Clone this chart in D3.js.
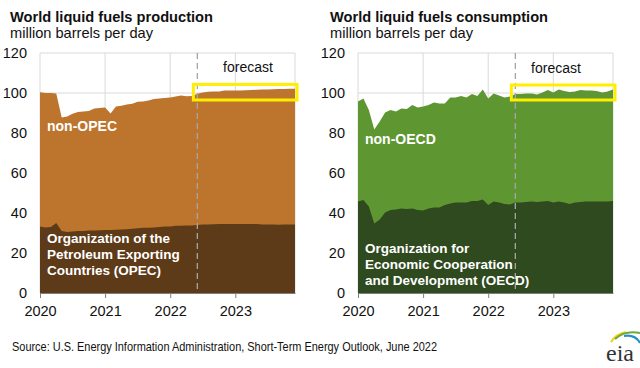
<!DOCTYPE html>
<html>
<head>
<meta charset="utf-8">
<script src="https://cdn.jsdelivr.net/npm/d3@7/dist/d3.min.js"></script>
<style>
  body { margin: 0; background: #fff; }
  svg { display: block; font-family: "Liberation Sans", Arial, sans-serif; }
</style>
</head>
<body>
<div id="chart"></div>
<script>
// Parameters
const svg_w = 640;
const svg_h = 368;

// Data: monthly values Jan 2020 - Dec 2023 (million barrels per day)
const years = ["2020", "2021", "2022", "2023"];
const yTicks = [0, 20, 40, 60, 80, 100, 120];
const forecastStart = 29; // June 2022

const productionTotal = [
  100.4, 100.0, 100.0, 99.7, 87.8, 88.2, 89.6, 90.5, 90.7, 91.0, 92.3, 92.5,
  92.8, 89.8, 93.3, 93.6, 94.3, 94.6, 95.6, 95.8, 96.3, 97.0, 97.2, 97.5,
  97.8, 98.2, 98.8, 98.4, 98.5, 99.6, 100.3, 100.6, 100.8, 100.8, 101.2, 101.3,
  101.2, 101.3, 101.4, 101.5, 101.6, 101.7, 101.8, 101.9, 102.0, 102.0, 102.1, 102.1
];
const productionOPEC = [
  33.2, 32.8, 33.0, 35.0, 31.0, 30.5, 30.8, 31.0, 31.0, 31.2, 31.3, 31.4,
  31.5, 31.5, 31.6, 31.7, 31.9, 32.1, 32.4, 32.6, 32.6, 32.8, 33.0, 33.2,
  33.3, 33.6, 33.6, 33.7, 33.8, 34.0, 34.2, 34.3, 34.4, 34.5, 34.5, 34.5,
  34.5, 34.5, 34.5, 34.5, 34.5, 34.3, 34.2, 34.2, 34.1, 34.2, 34.3, 34.3
];
const consumptionTotal = [
  95.7, 97.3, 91.5, 81.8, 85.7, 90.2, 91.5, 90.7, 92.3, 92.0, 94.0, 92.8,
  93.2, 94.0, 95.3, 94.8, 94.8, 97.8, 97.7, 98.5, 97.7, 99.5, 98.5, 101.8,
  97.3, 99.8, 98.7, 97.7, 98.2, 99.5, 99.5, 99.8, 99.8, 99.3, 100.3, 101.5,
  100.2, 101.8, 101.0, 100.5, 100.8, 101.5, 101.2, 101.2, 101.0, 100.2, 100.7, 101.8
];
const consumptionOECD = [
  45.7, 46.5, 43.2, 34.8, 36.8, 40.2, 41.5, 41.8, 42.2, 42.0, 42.3, 41.5,
  41.2, 42.3, 42.8, 42.7, 44.0, 44.8, 45.2, 45.2, 45.3, 46.0, 46.0, 46.8,
  44.0, 45.7, 45.3, 44.5, 44.3, 45.2, 45.3, 45.5, 45.7, 45.5, 45.8, 46.0,
  45.2, 45.7, 45.3, 44.5, 45.2, 45.5, 45.7, 45.7, 45.8, 45.7, 45.8, 46.0
];

const svg = d3.select("div#chart")
  .append("svg")
    .attr("width", svg_w)
    .attr("height", svg_h);

svg.append("rect")
    .attr("width", svg_w)
    .attr("height", svg_h)
    .attr("fill", "white");

function drawPanel(p) {
  const g = svg.append("g");
  const xScale = d3.scaleLinear().domain([0, p.total.length - 1]).range([p.left, p.right]);
  const yScale = d3.scaleLinear().domain([0, 120]).range([293, 53]);

  // titles
  g.append("text")
      .attr("x", p.titleX).attr("y", 22)
      .style("font-size", "15px").style("font-weight", "bold")
      .attr("textLength", p.titleW).attr("lengthAdjust", "spacingAndGlyphs")
      .attr("fill", "#111")
      .text(p.title);
  g.append("text")
      .attr("x", p.titleX).attr("y", 38)
      .style("font-size", "15px")
      .attr("textLength", 143).attr("lengthAdjust", "spacingAndGlyphs")
      .attr("fill", "#111")
      .text("million barrels per day");

  // gridlines
  g.append("g").selectAll("line")
    .data(yTicks.filter(d => d > 0))
    .join("line")
      .attr("x1", p.left).attr("x2", p.right)
      .attr("y1", d => yScale(d)).attr("y2", d => yScale(d))
      .attr("stroke", "#d9d9d9");
  g.append("g").selectAll("line")
    .data(years.map((d, i) => i * 12).concat([p.total.length - 1]))
    .join("line")
      .attr("x1", d => xScale(d)).attr("x2", d => xScale(d))
      .attr("y1", yScale(120)).attr("y2", yScale(0))
      .attr("stroke", "#d9d9d9");

  // stacked areas
  const areaTotal = d3.area()
      .x((d, i) => xScale(i))
      .y0(yScale(0))
      .y1(d => yScale(d));
  g.append("path")
      .datum(p.total)
      .attr("fill", p.topColor)
      .attr("d", areaTotal);
  g.append("path")
      .datum(p.base)
      .attr("fill", p.baseColor)
      .attr("d", areaTotal);

  // forecast divider
  g.append("line")
      .attr("x1", xScale(forecastStart)).attr("x2", xScale(forecastStart))
      .attr("y1", yScale(120)).attr("y2", yScale(0))
      .attr("stroke", "#a6a6a6")
      .attr("stroke-width", 1.3)
      .attr("stroke-dasharray", "6,4");

  g.append("text")
      .attr("x", p.forecastX).attr("y", p.forecastY)
      .attr("text-anchor", "middle")
      .style("font-size", "14px")
      .attr("fill", "#111")
      .text("forecast");

  // highlight box
  g.append("rect")
      .attr("x", xScale(forecastStart) - 4)
      .attr("y", yScale(p.boxTop))
      .attr("width", xScale(p.total.length - 1) + 2 - (xScale(forecastStart) - 4))
      .attr("height", yScale(p.boxBottom) - yScale(p.boxTop))
      .attr("fill", "none")
      .attr("stroke", "#ffee00")
      .attr("stroke-width", 3);

  // axes
  const yAxis = d3.axisLeft(yScale).tickValues(yTicks).tickSize(0).tickPadding(p.left - p.yLabelX);
  g.append("g")
      .attr("transform", `translate(${p.left},0)`)
      .call(yAxis)
      .call(a => a.select(".domain").remove())
      .call(a => a.selectAll("text")
          .style("font-family", "'Liberation Sans', Arial, sans-serif")
          .style("font-size", "14.5px").attr("fill", "#111"));

  const xAxis = d3.axisBottom(xScale)
      .tickValues(years.map((d, i) => i * 12))
      .tickFormat((d, i) => years[i])
      .tickSize(5).tickSizeOuter(0).tickPadding(8);
  g.append("g")
      .attr("transform", `translate(0,${yScale(0)})`)
      .call(xAxis)
      .call(a => a.select(".domain").attr("stroke", "#7f7f7f"))
      .call(a => a.selectAll(".tick line").attr("stroke", "#7f7f7f"))
      .call(a => a.selectAll("text")
          .style("font-family", "'Liberation Sans', Arial, sans-serif")
          .style("font-size", "14.5px").attr("fill", "#111"));

  // series labels
  g.append("text")
      .attr("x", p.labelX).attr("y", p.topLabelY)
      .style("font-size", "14px").style("font-weight", "bold")
      .attr("fill", "white")
      .text(p.topLabel);
  g.append("text")
      .attr("x", p.labelX)
      .style("font-size", "13.5px").style("font-weight", "bold")
      .attr("fill", "white")
    .selectAll("tspan")
    .data(p.baseLabel)
    .join("tspan")
      .attr("x", p.labelX)
      .attr("y", (d, i) => p.baseLabelY + i * 15.8)
      .text(d => d);
}

drawPanel({
  title: "World liquid fuels production", titleX: 10, titleW: 203,
  left: 40, right: 295, yLabelX: 27,
  total: productionTotal, base: productionOPEC,
  topColor: "#bd742c", baseColor: "#5e3b18",
  topLabel: "non-OPEC", labelX: 47, topLabelY: 131,
  baseLabel: ["Organization of the", "Petroleum Exporting", "Countries (OPEC)"], baseLabelY: 243,
  forecastX: 248, forecastY: 72, boxTop: 104.3, boxBottom: 96.5
});

drawPanel({
  title: "World liquid fuels consumption", titleX: 330, titleW: 218,
  left: 358, right: 613, yLabelX: 345,
  total: consumptionTotal, base: consumptionOECD,
  topColor: "#5e9732", baseColor: "#2e4a1e",
  topLabel: "non-OECD", labelX: 365, topLabelY: 144,
  baseLabel: ["Organization for", "Economic Cooperation", "and Development (OECD)"], baseLabelY: 253,
  forecastX: 556, forecastY: 73, boxTop: 104, boxBottom: 96.5
});

// source note
svg.append("text")
    .attr("x", 12).attr("y", 351)
    .style("font-size", "13px")
    .attr("textLength", 425).attr("lengthAdjust", "spacingAndGlyphs")
    .attr("fill", "#111")
    .text("Source: U.S. Energy Information Administration, Short-Term Energy Outlook, June 2022");

// eia logo
const logo = svg.append("g");
logo.append("path")
    .attr("d", "M611,342 Q616,334 626,332")
    .attr("fill", "none").attr("stroke", "#f2d21b").attr("stroke-width", 2.2);
logo.append("path")
    .attr("d", "M615,339 Q625,330 640,333")
    .attr("fill", "none").attr("stroke", "#6aaa3a").attr("stroke-width", 2.2);
logo.append("path")
    .attr("d", "M624,336 Q635,334 640,343")
    .attr("fill", "none").attr("stroke", "#2a8fc9").attr("stroke-width", 2.2);
logo.append("text")
    .attr("x", 606).attr("y", 361)
    .style("font-family", "'Liberation Serif', 'DejaVu Serif', serif")
    .style("font-size", "24px")
    .attr("fill", "#333")
    .text("eia");
</script>
</body>
</html>
